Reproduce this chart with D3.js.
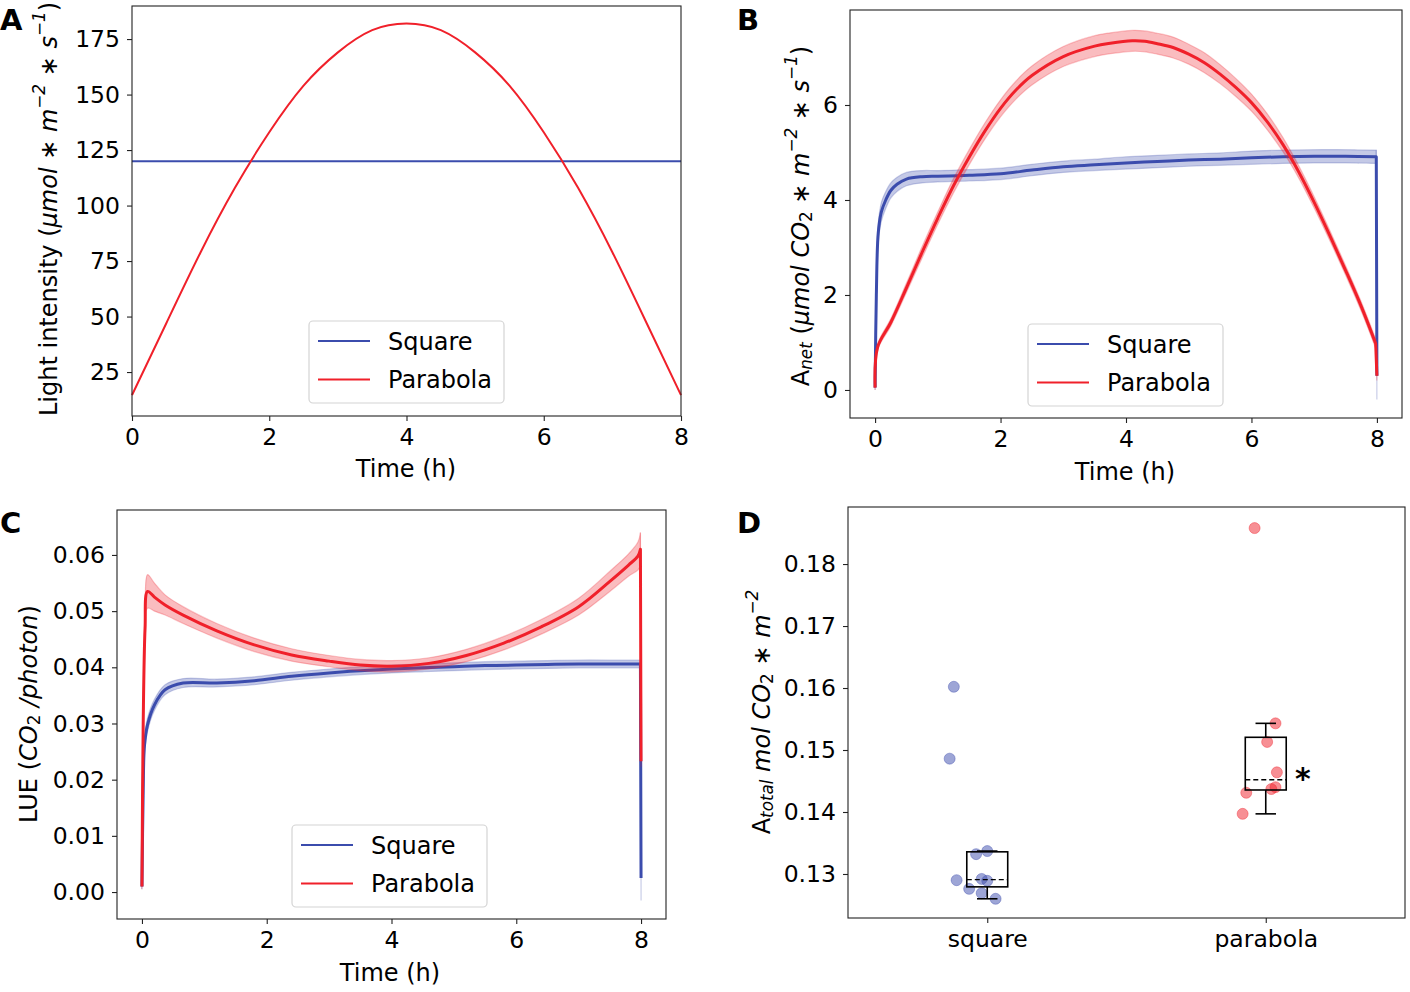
<!DOCTYPE html>
<html>
<head>
<meta charset="utf-8">
<script src="https://cdn.jsdelivr.net/npm/d3@7/dist/d3.min.js"></script>
<style>
body { margin: 0; background: #fff; }
text { font-family: "DejaVu Sans", sans-serif; fill: #000; }
</style>
</head>
<body>
<svg id="fig" width="1410" height="992"></svg>
<script>
// ---- data ----
var seriesNames = ["Square", "Parabola"];
var colors = ["#3b4cad", "#f0202a"];

// A: light intensity
var timeA = [0, 0.5, 1, 1.5, 2, 2.5, 3, 3.5, 4, 4.5, 5, 5.5, 6, 6.5, 7, 7.5, 8];
var lightParabola = [14.6, 47, 79, 108, 133, 154, 169, 179, 182, 179, 169, 154, 133, 108, 79, 47, 14.6];
var timeSquareA = [0, 8];
var lightSquare = [120, 120];

// B: net assimilation (mean, sd)
var timeBsq = [0, 0.02, 0.05, 0.1, 0.17, 0.25, 0.35, 0.5, 0.75, 1, 1.5, 2, 2.5, 3, 3.5, 4, 4.5, 5, 5.5, 6, 6.5, 7, 7.5, 7.99, 8];
var anetSq = [0.05, 2.0, 3.3, 3.75, 4.0, 4.2, 4.33, 4.44, 4.49, 4.5, 4.52, 4.55, 4.63, 4.7, 4.74, 4.78, 4.81, 4.84, 4.86, 4.89, 4.91, 4.92, 4.92, 4.91, 0.3];
var anetSqSd = [0.05, 0.15, 0.2, 0.2, 0.18, 0.16, 0.15, 0.14, 0.13, 0.12, 0.12, 0.12, 0.12, 0.12, 0.12, 0.13, 0.13, 0.13, 0.13, 0.14, 0.14, 0.14, 0.14, 0.14, 0.5];
var timeBpa = [0, 0.04, 0.25, 0.5, 0.75, 1, 1.25, 1.5, 1.75, 2, 2.25, 2.5, 3, 3.5, 3.75, 4.1, 4.3, 4.5, 4.75, 5, 5.25, 5.5, 5.75, 6, 6.25, 6.5, 6.75, 7, 7.25, 7.5, 7.75, 7.98, 8];
var anetPa = [0.05, 0.9, 1.42, 2.15, 2.9, 3.62, 4.3, 4.9, 5.45, 5.93, 6.32, 6.62, 7.02, 7.24, 7.3, 7.35, 7.34, 7.29, 7.21, 7.07, 6.89, 6.65, 6.37, 6.05, 5.65, 5.17, 4.6, 3.95, 3.25, 2.52, 1.76, 0.98, 0.3];
var anetPaSd = [0.05, 0.06, 0.08, 0.1, 0.12, 0.13, 0.15, 0.16, 0.17, 0.18, 0.19, 0.2, 0.21, 0.22, 0.22, 0.22, 0.22, 0.22, 0.22, 0.21, 0.21, 0.2, 0.19, 0.18, 0.17, 0.15, 0.13, 0.12, 0.11, 0.1, 0.1, 0.1, 0.1];

// C: light use efficiency (mean, sd)
var timeCsq = [0, 0.02, 0.04, 0.09, 0.2, 0.37, 0.66, 1.2, 1.8, 2.4, 3, 3.5, 4, 4.5, 5, 5.5, 6, 6.5, 7, 7.5, 7.99, 8];
var lueSq = [0.001, 0.018, 0.026, 0.0298, 0.0333, 0.036, 0.0372, 0.0372, 0.0376, 0.0384, 0.039, 0.0394, 0.0397, 0.0399, 0.0401, 0.0403, 0.0404, 0.0405, 0.0406, 0.0406, 0.0406, 0.0025];
var lueSqSd = [0.0005, 0.0015, 0.0015, 0.0012, 0.001, 0.0009, 0.0008, 0.0007, 0.0007, 0.0007, 0.0007, 0.0007, 0.0007, 0.0007, 0.0007, 0.0007, 0.0007, 0.0007, 0.0007, 0.0007, 0.0007, 0.004];
var timeCpa = [0, 0.02, 0.05, 0.09, 0.2, 0.37, 0.66, 1.2, 1.8, 2.4, 3, 3.5, 4, 4.6, 5.2, 5.8, 6.4, 7, 7.5, 7.8, 7.95, 7.99, 8];
var luePa = [0.001, 0.03, 0.047, 0.0535, 0.0525, 0.0511, 0.0493, 0.0465, 0.044, 0.0422, 0.0411, 0.0404, 0.0402, 0.0407, 0.0421, 0.0443, 0.0472, 0.0508, 0.0553, 0.0582, 0.0598, 0.061, 0.0233];
var luePaSd = [0.0005, 0.002, 0.003, 0.003, 0.0025, 0.0018, 0.0015, 0.0013, 0.0012, 0.0011, 0.001, 0.001, 0.001, 0.001, 0.0011, 0.0012, 0.0013, 0.0015, 0.0018, 0.002, 0.0025, 0.003, 0.001];

// D: total assimilation per plant
var categoriesD = ["square", "parabola"];
var atotalSq = [0.1602, 0.1486, 0.1332, 0.1337, 0.1290, 0.1292, 0.1289, 0.1276, 0.1269, 0.1260];
var jitterSq = [-0.12, -0.135, -0.04, 0, -0.11, -0.02, 0, -0.065, -0.02, 0.03];
var atotalPa = [0.1858, 0.1543, 0.1513, 0.1464, 0.1440, 0.1437, 0.1431, 0.1397];
var jitterPa = [-0.04, 0.035, 0.005, 0.04, 0.035, 0.02, -0.07, -0.083];
var starValue = 0.1463;

var timeTicks = [0, 2, 4, 6, 8];

var svg = d3.select("#fig");

function frame(f) {
  svg.append("rect")
      .attr("x", f.x0).attr("y", f.y0)
      .attr("width", f.x1 - f.x0).attr("height", f.y1 - f.y0)
      .attr("fill", "none").attr("stroke", "#222").attr("stroke-width", 1.1);
}

function drawAxes(f, x, y, xTicks, yTicks, yFmt, fs) {
  var gx = svg.append("g")
      .attr("transform", "translate(0," + f.y1 + ")")
      .call(d3.axisBottom(x).tickValues(xTicks).tickSize(5).tickPadding(7));
  var gy = svg.append("g")
      .attr("transform", "translate(" + f.x0 + ",0)")
      .call(d3.axisLeft(y).tickValues(yTicks).tickFormat(yFmt).tickSize(5).tickPadding(7));
  [gx, gy].forEach(function(g) {
    g.select(".domain").remove();
    g.selectAll("line").attr("stroke", "#222").attr("stroke-width", 1.1);
    g.selectAll("text").attr("font-size", fs).attr("font-family", "DejaVu Sans").attr("fill", "#000");
  });
}

function xLabel(cx, y, txt) {
  svg.append("text").attr("x", cx).attr("y", y)
      .attr("text-anchor", "middle").attr("font-size", 24).text(txt);
}

// parts: [text, style] with style n, i, sub, isub, sup
function rotLabel(cx, cy, parts, fs) {
  var t = svg.append("text")
      .attr("transform", "translate(" + cx + "," + cy + ") rotate(-90)")
      .attr("text-anchor", "middle")
      .attr("dominant-baseline", "central")
      .attr("font-size", fs);
  var shift = 0;
  parts.forEach(function(p) {
    var s = p[1];
    var target = 0, size = fs;
    if (s == "sup") { target = -0.4 * fs; size = 0.7 * fs; }
    if (s == "sub" || s == "isub") { target = 0.22 * fs; size = 0.7 * fs; }
    t.append("tspan")
        .attr("dy", target - shift)
        .attr("font-size", size)
        .attr("font-style", (s == "i" || s == "isub" || s == "sup") ? "italic" : "normal")
        .text(p[0]);
    shift = target;
  });
}

function legend(x0, y0) {
  svg.append("rect")
      .attr("x", x0).attr("y", y0).attr("width", 195).attr("height", 82)
      .attr("rx", 4).attr("fill", "#fff").attr("fill-opacity", 0.85)
      .attr("stroke", "#d4d4d4").attr("stroke-width", 1.2);
  seriesNames.forEach(function(n, i) {
    var yy = y0 + 20 + i * 38.5;
    svg.append("line")
        .attr("x1", x0 + 9).attr("x2", x0 + 61).attr("y1", yy).attr("y2", yy)
        .attr("stroke", colors[i]).attr("stroke-width", 2.2);
    svg.append("text").attr("x", x0 + 79).attr("y", yy + 8.5)
        .attr("font-size", 24).text(n);
  });
}

function zipSeries(t, m, sd) {
  return t.map(function(d, i) { return {t: d, m: m[i], sd: sd ? sd[i] : 0}; });
}

// ---------------- Panel A ----------------
var fA = {x0: 132, x1: 681, y0: 6, y1: 416};
var xA = d3.scaleLinear().domain([0, 8]).range([fA.x0, fA.x1]);
var yA = d3.scaleLinear().domain([5.2, 189.9]).range([fA.y1, fA.y0]);
var lineA = d3.line().x(function(d) { return xA(d.t); }).y(function(d) { return yA(d.m); }).curve(d3.curveNatural);
svg.append("path").datum(zipSeries(timeSquareA, lightSquare))
    .attr("fill", "none").attr("stroke", colors[0]).attr("stroke-width", 2).attr("d", lineA);
svg.append("path").datum(zipSeries(timeA, lightParabola))
    .attr("fill", "none").attr("stroke", colors[1]).attr("stroke-width", 2).attr("d", lineA);
frame(fA);
drawAxes(fA, xA, yA, timeTicks, [25, 50, 75, 100, 125, 150, 175], d3.format("d"), 23.5);
xLabel(406, 477, "Time (h)");
rotLabel(49, 209, [["Light intensity (", "n"], ["\u03bcmol \u2217 m", "i"], ["\u22122", "sup"], [" \u2217 s", "i"], ["\u22121", "sup"], [")", "n"]], 24);
legend(309, 321);

// ---------------- Panel B ----------------
var fB = {x0: 850, x1: 1402, y0: 10, y1: 418};
var xB = d3.scaleLinear().domain([-0.4, 8.4]).range([fB.x0, fB.x1]);
var yB = d3.scaleLinear().domain([-0.59, 8.0]).range([fB.y1, fB.y0]);

// smooth body, straight final drop when the light switches off
function drawBandLine(x, y, data, color, lw) {
  var body = data.slice(0, -1), tail = data.slice(-2);
  var smooth = d3.curveCatmullRom.alpha(0.5);
  var area = d3.area()
      .x(function(d) { return x(d.t); })
      .y0(function(d) { return y(d.m - d.sd); })
      .y1(function(d) { return y(d.m + d.sd); });
  var line = d3.line()
      .x(function(d) { return x(d.t); })
      .y(function(d) { return y(d.m); });
  [area.curve(smooth)(body), area.curve(d3.curveLinear)(tail)].forEach(function(p) {
    svg.append("path")
        .attr("fill", color).attr("fill-opacity", 0.3)
        .attr("stroke", color).attr("stroke-opacity", 0.25).attr("stroke-width", 1.2)
        .attr("d", p);
  });
  var last = data[data.length - 1];
  svg.append("path")
      .attr("fill", "none").attr("stroke", color).attr("stroke-width", lw)
      .attr("stroke-linejoin", "round")
      .attr("d", line.curve(smooth)(body) + "L" + x(last.t) + "," + y(last.m));
}

drawBandLine(xB, yB, zipSeries(timeBsq, anetSq, anetSqSd), colors[0], 3);
drawBandLine(xB, yB, zipSeries(timeBpa, anetPa, anetPaSd), colors[1], 3);
frame(fB);
drawAxes(fB, xB, yB, timeTicks, [0, 2, 4, 6], d3.format("d"), 23.5);
xLabel(1125, 480, "Time (h)");
rotLabel(801, 216, [["A", "n"], ["net", "isub"], [" (", "n"], ["\u03bcmol CO", "i"], ["2", "sub"], [" \u2217 m", "i"], ["\u22122", "sup"], [" \u2217 s", "i"], ["\u22121", "sup"], [")", "n"]], 24);
legend(1028, 324);

// ---------------- Panel C ----------------
var fC = {x0: 117, x1: 666, y0: 510, y1: 919};
var xC = d3.scaleLinear().domain([-0.4, 8.4]).range([fC.x0, fC.x1]);
var yC = d3.scaleLinear().domain([-0.0048, 0.068]).range([fC.y1, fC.y0]);
drawBandLine(xC, yC, zipSeries(timeCsq, lueSq, lueSqSd), colors[0], 3);
drawBandLine(xC, yC, zipSeries(timeCpa, luePa, luePaSd), colors[1], 3);
frame(fC);
drawAxes(fC, xC, yC, timeTicks, [0, 0.01, 0.02, 0.03, 0.04, 0.05, 0.06], d3.format(".2f"), 23.5);
xLabel(390, 981, "Time (h)");
rotLabel(29, 714, [["LUE (", "n"], ["CO", "i"], ["2", "sub"], [" /photon", "i"], [")", "n"]], 24);
legend(292, 825);

// ---------------- Panel D ----------------
var fD = {x0: 848, x1: 1405, y0: 507, y1: 918};
var xD = d3.scalePoint().domain(categoriesD).range([fD.x0, fD.x1]).padding(0.5);
var yD = d3.scaleLinear().domain([0.1229, 0.1892]).range([fD.y1, fD.y0]);
var step = xD.step();
var groupsD = [
  {cat: "square", vals: atotalSq, jit: jitterSq, color: colors[0]},
  {cat: "parabola", vals: atotalPa, jit: jitterPa, color: colors[1]}
];
var boxW = 0.147 * step;

groupsD.forEach(function(g) {
  var cx = xD(g.cat);
  svg.selectAll(null).data(g.vals).enter().append("circle")
      .attr("cx", function(d, i) { return cx + g.jit[i] * step; })
      .attr("cy", function(d) { return yD(d); })
      .attr("r", 5.5)
      .attr("fill", g.color).attr("fill-opacity", 0.5)
      .attr("stroke", g.color).attr("stroke-opacity", 0.4);

  var s = g.vals.slice().sort(d3.ascending);
  var q1 = d3.quantile(s, 0.25), med = d3.quantile(s, 0.5), q3 = d3.quantile(s, 0.75);
  var iqr = q3 - q1;
  var lo = d3.min(s.filter(function(v) { return v >= q1 - 1.5 * iqr; }));
  var hi = d3.max(s.filter(function(v) { return v <= q3 + 1.5 * iqr; }));
  var bx = svg.append("g").attr("stroke", "#000").attr("stroke-width", 1.6).attr("fill", "none");
  bx.append("line").attr("x1", cx).attr("x2", cx).attr("y1", yD(q1)).attr("y2", yD(lo));
  bx.append("line").attr("x1", cx).attr("x2", cx).attr("y1", yD(q3)).attr("y2", yD(hi));
  bx.append("line").attr("x1", cx - boxW / 4).attr("x2", cx + boxW / 4).attr("y1", yD(lo)).attr("y2", yD(lo));
  bx.append("line").attr("x1", cx - boxW / 4).attr("x2", cx + boxW / 4).attr("y1", yD(hi)).attr("y2", yD(hi));
  bx.append("rect").attr("x", cx - boxW / 2).attr("width", boxW)
      .attr("y", yD(q3)).attr("height", yD(q1) - yD(q3));
  bx.append("line").attr("x1", cx - boxW / 2).attr("x2", cx + boxW / 2)
      .attr("y1", yD(med)).attr("y2", yD(med))
      .attr("stroke-width", 1.3).attr("stroke-dasharray", "5,3");
});

svg.append("text")
    .attr("x", xD("parabola") + 37).attr("y", yD(starValue) + 16)
    .attr("text-anchor", "middle").attr("font-size", 30).attr("font-weight", "bold")
    .text("*");

frame(fD);
drawAxes(fD, xD, yD, categoriesD, [0.13, 0.14, 0.15, 0.16, 0.17, 0.18], d3.format(".2f"), 23.5);
rotLabel(762, 712, [["A", "n"], ["total", "isub"], [" mol CO", "i"], ["2", "sub"], [" \u2217 m", "i"], ["\u22122", "sup"]], 24);

// panel letters
[["A", 0, 30], ["B", 737, 30], ["C", 0, 533], ["D", 737, 533]].forEach(function(p) {
  svg.append("text").attr("x", p[1]).attr("y", p[2])
      .attr("font-family", "Liberation Sans, Arial, sans-serif")
      .attr("font-weight", "bold").attr("font-size", 29).text(p[0]);
});
</script>
</body>
</html>
